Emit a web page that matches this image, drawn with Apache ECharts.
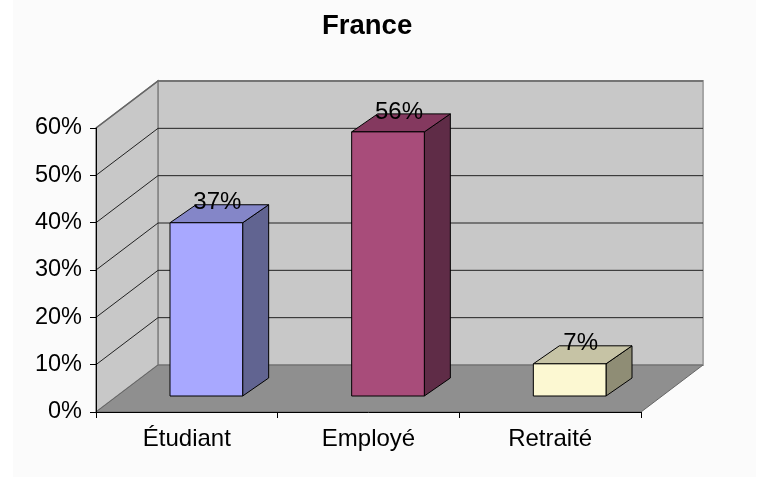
<!DOCTYPE html>
<html>
<head>
<meta charset="utf-8">
<style>
  html, body { margin: 0; padding: 0; background: #fff; }
  #chart { width: 758px; height: 477px; }
</style>
<script src="https://cdn.jsdelivr.net/npm/echarts@6/dist/echarts.min.js"></script>
</head>
<body>
<div id="chart"></div>
<script>
// valeurs
const categories = ['Étudiant', 'Employé', 'Retraité'];
const values = [36.6, 55.8, 6.8];
const barColors = ['#a8a8ff', '#a84c7a', '#fcf8d2'];
const barTops = ['#8486c8', '#84395f', '#c6c3a5'];
const barSides = ['#616491', '#5f2c47', '#8f8d75'];
const ticks = [0, 10, 20, 30, 40, 50, 60];

// profondeur de la fausse 3D, en pixels
const wallDx = 62, wallDy = -47;
const barDx = 19.5, barDy = -16;
const depthDx = 26, depthDy = -18;

const chart = echarts.init(document.getElementById('chart'));

function polygon(points, fill) {
    return {
        type: 'polygon',
        shape: { points: points },
        style: { fill: fill, stroke: '#000', lineWidth: 1 }
    };
}

function renderWalls(params, api) {
    const left = api.coord([0, 0])[0] - api.size([1, 0])[0] / 2;
    const right = left + api.size([1, 0])[0] * categories.length;
    const y0 = api.coord([0, 0])[1];
    const yTop = api.coord([0, ticks[ticks.length - 1]])[1];
    return {
        type: 'group',
        children: [
            {
                type: 'polygon',
                shape: { points: [[left + wallDx, y0 + wallDy], [right + wallDx, y0 + wallDy], [right + wallDx, yTop + wallDy], [left + wallDx, yTop + wallDy]] },
                style: { fill: '#c8c8c8', stroke: '#a6a6a6', lineWidth: 2 }
            },
            {
                type: 'polygon',
                shape: { points: [[left, y0], [left + wallDx, y0 + wallDy], [left + wallDx, yTop + wallDy], [left, yTop]] },
                style: { fill: '#c8c8c8', stroke: '#808080', lineWidth: 1.5 }
            },
            {
                type: 'polygon',
                shape: { points: [[left, y0], [right, y0], [right + wallDx, y0 + wallDy], [left + wallDx, y0 + wallDy]] },
                style: { fill: '#8f8f8f', stroke: '#666', lineWidth: 1 }
            }
        ]
    };
}

function renderGridline(params, api) {
    const v = api.value(0);
    if (v === 0) return null;
    const left = api.coord([0, 0])[0] - api.size([1, 0])[0] / 2;
    const right = left + api.size([1, 0])[0] * categories.length;
    const y = api.coord([0, v])[1];
    const isTop = v === ticks[ticks.length - 1];
    return {
        type: 'polyline',
        shape: { points: [[left, y], [left + wallDx, y + wallDy], [right + wallDx, y + wallDy]] },
        style: { fill: 'none', stroke: isTop ? '#666' : '#222', lineWidth: isTop ? 1.5 : 1 }
    };
}

function renderBar(params, api) {
    const i = api.value(0);
    const v = api.value(1);
    const w = api.size([1, 0])[0] * 0.4;
    const base = api.coord([i, 0]);
    const top = api.coord([i, v]);
    const x0 = base[0] - w / 2 + barDx;
    const x1 = x0 + w;
    const yb = base[1] + barDy;
    const yt = top[1] + barDy;
    return {
        type: 'group',
        children: [
            polygon([[x1, yb], [x1 + depthDx, yb + depthDy], [x1 + depthDx, yt + depthDy], [x1, yt]], barSides[i]),
            polygon([[x0, yt], [x1, yt], [x1 + depthDx, yt + depthDy], [x0 + depthDx, yt + depthDy]], barTops[i]),
            polygon([[x0, yb], [x1, yb], [x1, yt], [x0, yt]], barColors[i]),
            {
                type: 'text',
                z2: 10,
                style: {
                    x: (x0 + x1) / 2 + 11,
                    y: yt - 20,
                    text: Math.round(v) + '%',
                    fill: '#000',
                    font: '24px "Liberation Sans"',
                    align: 'center',
                    verticalAlign: 'middle'
                }
            }
        ]
    };
}

chart.setOption({
    animation: false,
    backgroundColor: 'transparent',
    graphic: [
        // fond gris tres clair, bande blanche a gauche comme sur l'image
        { type: 'rect', z: -10, shape: { x: 13, y: 0, width: 743, height: 477 }, style: { fill: '#fbfbfb' }, silent: true }
    ],
    title: {
        text: 'France',
        left: 317,
        top: 7,
        textStyle: { fontFamily: 'Liberation Sans', fontSize: 27.5, fontWeight: 'bold', color: '#000' }
    },
    grid: { left: 96, right: 117, top: 128, bottom: 65 },
    xAxis: {
        type: 'category',
        data: categories,
        z: 5,
        axisLine: { lineStyle: { color: '#000', width: 1 } },
        axisTick: { show: true, alignWithLabel: false, length: 6, lineStyle: { color: '#000' } },
        axisLabel: { color: '#000', fontFamily: 'Liberation Sans', fontSize: 24, margin: 15 }
    },
    yAxis: {
        type: 'value',
        min: 0,
        max: 60,
        interval: 10,
        z: 5,
        splitLine: { show: false },
        axisLine: { show: true, lineStyle: { color: '#000', width: 1 } },
        axisTick: { show: true, length: 6, lineStyle: { color: '#000' } },
        axisLabel: { color: '#000', fontFamily: 'Liberation Sans', fontSize: 23.5, margin: 14, formatter: '{value}%' }
    },
    series: [
        { type: 'custom', clip: false, z: 1, renderItem: renderWalls, data: [[0, 0]], encode: { x: 0, y: 1 }, silent: true },
        { type: 'custom', clip: false, z: 2, renderItem: renderGridline, data: ticks.map(t => [t]), encode: { y: 0 }, silent: true },
        { type: 'custom', clip: false, z: 3, renderItem: renderBar, data: values.map((v, i) => [i, v]), encode: { x: 0, y: 1 } }
    ]
});
</script>
</body>
</html>
